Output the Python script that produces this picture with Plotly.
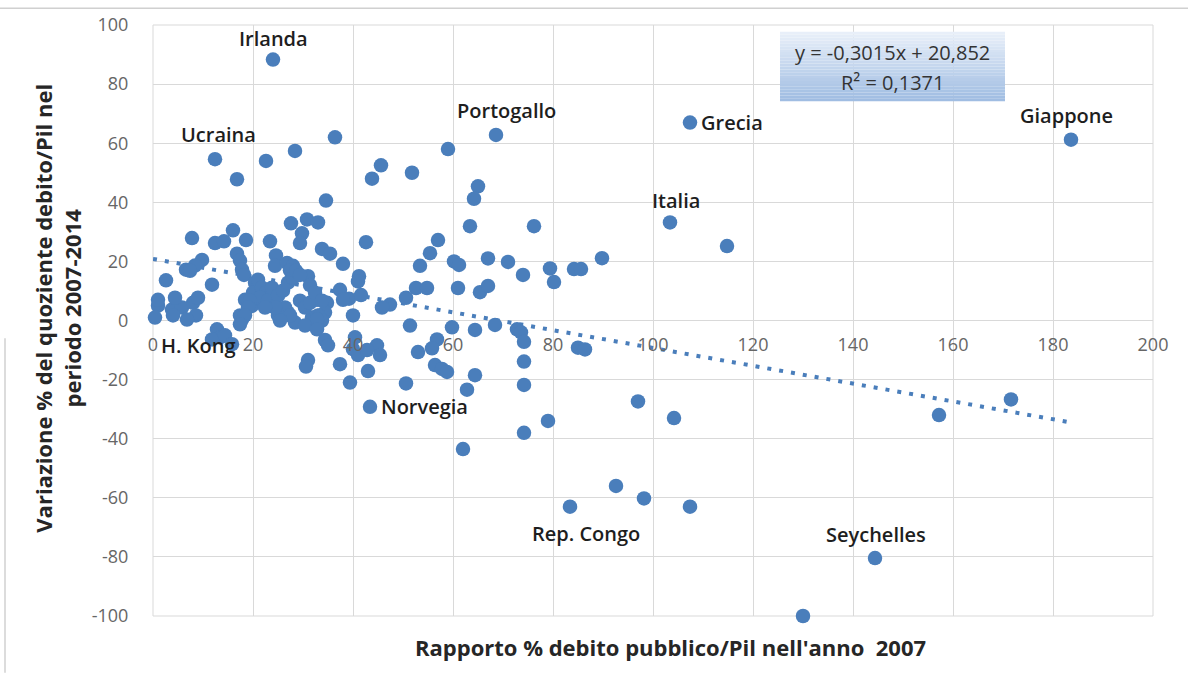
import plotly.graph_objects as go

# Public debt/GDP in 2007 (x) and % change of the debt/GDP ratio 2007-2014 (y)
debt_2007 = [
    24.0, 12.4, 16.8, 22.6, 28.4, 36.4, 43.8, 45.6, 51.8, 59.0,
    68.6, 107.4, 103.4, 114.8, 183.6, 157.2, 171.6, 144.4, 130.0, 83.4,
    92.6, 98.2, 107.4, 97.0, 104.2, 62.0, 79.0, 74.2, 43.4,
    65.0, 64.2, 63.4, 76.2, 34.6, 7.8, 12.4, 14.2, 16.0, 18.6,
    23.4, 27.6, 30.8, 33.0, 29.8, 29.4, 16.8, 17.4, 17.8, 18.2,
    9.8, 8.4, 6.6, 7.4, 11.8, 2.6, 24.6, 24.4, 26.8, 28.0,
    27.4, 33.8, 35.4, 38.0, 42.6, 41.2, 41.0, 31.0, 31.4, 57.0,
    55.4, 53.4, 60.2, 61.2, 67.0, 71.0, 74.0, 79.4, 80.2, 84.2,
    85.6, 89.8, 20.4, 20.0,
    37.4, 39.2, 41.6, 52.6, 54.8, 50.6, 47.4, 45.8, 61.0, 65.4,
    67.0, 32.8, 34.8, 38.0, 40.0, 1.0, 0.4, 3.8, 5.8, 8.0,
    8.6, 6.8, 1.0, 4.4, 9.0, 18.4, 17.8, 19.8, 21.8, 25.0,
    27.0, 23.8, 28.4, 4.0, 17.4, 31.8, 33.4, 34.4,
    21.0, 21.8, 22.6, 21.4, 23.0, 23.8, 25.0, 26.0, 27.0, 28.0,
    28.6, 29.4, 26.4, 27.4, 25.4, 24.4, 22.4, 19.4, 19.0, 18.4,
    29.4, 30.4, 31.4, 32.4, 33.8, 33.0, 33.8, 32.8,
    12.8, 13.4, 11.8, 14.4, 15.8, 17.4,
    30.4, 32.8, 34.4, 35.0, 31.0, 30.6, 37.4, 39.4, 40.4, 40.0,
    41.0, 43.0, 44.8, 45.4, 42.8,
    51.4, 53.0, 56.8, 55.8, 56.4, 57.8, 58.8, 50.6, 59.8, 64.4,
    68.4, 72.8, 73.6, 74.2, 74.2, 74.2, 64.4, 62.8, 85.0, 86.4,
]
change_2007_2014 = [
    88.3, 54.6, 47.8, 54.0, 57.4, 62.0, 48.0, 52.5, 50.0, 58.0,
    62.8, 67.0, 33.2, 25.2, 61.2, -32.0, -26.7, -80.4, -100.0, -63.0,
    -56.0, -60.2, -63.0, -27.4, -33.0, -43.5, -34.0, -38.0, -29.2,
    45.4, 41.2, 31.9, 31.9, 40.6, 27.9, 26.2, 26.8, 30.5, 27.2,
    26.8, 32.9, 34.2, 33.2, 29.5, 26.2, 22.6, 20.3, 17.2, 15.4,
    20.5, 18.6, 17.2, 16.8, 12.1, 13.6, 22.0, 18.5, 19.5, 18.5,
    17.0, 24.2, 22.6, 19.2, 26.5, 15.0, 13.2, 15.0, 12.0, 27.2,
    22.8, 18.5, 20.0, 18.8, 21.0, 19.8, 15.4, 17.6, 13.0, 17.4,
    17.4, 21.1, 12.8, 9.4,
    10.4, 7.4, 8.6, 11.0, 11.0, 7.7, 5.4, 4.4, 11.0, 9.6,
    11.7, 7.0, 6.0, 7.0, 1.7, 5.0, 1.0, 3.7, 4.4, 6.0,
    1.7, 0.3, 7.0, 7.7, 7.7, 7.0, 0.3, 5.0, 7.0, 1.7,
    2.7, 5.0, -0.7, 1.7, 1.7, 1.0, 1.7, 2.7,
    13.8, 11.1, 9.4, 7.7, 6.7, 11.1, 8.4, 10.1, 12.8, 14.4,
    16.8, 15.4, 4.4, 1.7, 0.0, 4.4, 4.4, 6.7, 4.4, 1.7,
    6.7, 4.4, 6.0, 9.4, 6.7, 1.7, 0.0, 0.3,
    -3.0, -5.7, -6.4, -5.0, -8.0, -1.3,
    -1.7, -3.0, -6.6, -8.4, -13.4, -15.6, -14.8, -21.0, -5.7, -9.7,
    -11.7, -17.1, -8.4, -11.7, -10.0,
    -1.7, -10.7, -6.4, -9.4, -15.1, -16.4, -17.4, -21.3, -2.3, -3.2,
    -1.5, -3.0, -4.0, -7.2, -13.9, -21.8, -18.5, -23.4, -9.2, -9.8,
]

# Countries with a data label: name -> index of the point
labelled = {
    "Irlanda": 0, "Ucraina": 1, "Portogallo": 10, "Grecia": 11,
    "Italia": 12, "Giappone": 14, "Seychelles": 17, "Rep. Congo": 19,
    "Norvegia": 28, "H. Kong": 99,
}

# Linear trend line
SLOPE = -0.3015
INTERCEPT = 20.852
R2 = 0.1371

x_ticks = [0, 20, 40, 60, 80, 100, 120, 140, 160, 180, 200]
y_ticks = [-100, -80, -60, -40, -20, 0, 20, 40, 60, 80, 100]

BLUE = "#4a7ebb"
GRID = "#d9d9d9"
FONT = "Open Sans"


def it_num(v, nd):
    return f"{v:.{nd}f}".replace(".", ",")


fig = go.Figure()

x_end = max(debt_2007)
fig.add_trace(go.Scatter(
    x=[0, x_end],
    y=[INTERCEPT, INTERCEPT + SLOPE * x_end],
    mode="lines",
    line=dict(color=BLUE, width=4, dash="4px,8px"),
    hoverinfo="skip",
))

fig.add_trace(go.Scatter(
    x=debt_2007,
    y=change_2007_2014,
    mode="markers",
    marker=dict(color=BLUE, size=14.5, line=dict(width=0)),
    cliponaxis=False,
))

# Label placement (anchor side and pixel offset from the point)
label_style = {
    "Irlanda": dict(xanchor="center", xshift=0, yshift=21),
    "Ucraina": dict(xanchor="center", xshift=3, yshift=25),
    "Portogallo": dict(xanchor="center", xshift=10, yshift=24),
    "Grecia": dict(xanchor="left", xshift=9, yshift=0),
    "Italia": dict(xanchor="center", xshift=6, yshift=22),
    "Giappone": dict(xanchor="center", xshift=-5, yshift=24),
    "Seychelles": dict(xanchor="center", xshift=1, yshift=24),
    "Rep. Congo": dict(xanchor="center", xshift=16, yshift=-27),
    "Norvegia": dict(xanchor="left", xshift=9, yshift=0),
    "H. Kong": dict(xanchor="left", xshift=4, yshift=-28),
}

annotations = []
for name, idx in labelled.items():
    st = label_style[name]
    annotations.append(dict(
        x=debt_2007[idx], y=change_2007_2014[idx], xref="x", yref="y",
        text=name, showarrow=False, xanchor=st["xanchor"], yanchor="middle",
        xshift=st["xshift"], yshift=st["yshift"],
        font=dict(family=FONT, size=20, color="#1e1e1e", weight=600),
    ))

# Trendline equation box (vertical gradient made of thin strips)
shapes = []
bx0, bx1, by0, by1 = 125.4, 170.4, 74.2, 97.7
n_strips = 24
top_c = (232, 239, 249)
bot_c = (160, 189, 226)
for i in range(n_strips):
    t = i / (n_strips - 1)
    c = tuple(round(top_c[k] + (bot_c[k] - top_c[k]) * t) for k in range(3))
    ya = by1 - (by1 - by0) * i / n_strips
    yb = by1 - (by1 - by0) * (i + 1) / n_strips
    shapes.append(dict(
        type="rect", xref="x", yref="y", x0=bx0, x1=bx1, y0=yb, y1=ya,
        fillcolor=f"rgb{c}", line=dict(width=0), layer="above",
    ))

eq_line = f"y = {it_num(SLOPE, 4)}x + {it_num(INTERCEPT, 3)}"
r2_line = f"R² = {it_num(R2, 4)}"
for txt, yy in [(eq_line, 90.6), (r2_line, 80.5)]:
    annotations.append(dict(
        x=(bx0 + bx1) / 2, y=yy, xref="x", yref="y", text=txt,
        showarrow=False, xanchor="center", yanchor="middle",
        font=dict(family=FONT, size=20, color="#333333"),
    ))

# Plot-area border and outer frame lines
shapes.append(dict(type="rect", xref="paper", yref="paper", x0=0, x1=1, y0=0, y1=1,
                   line=dict(color=GRID, width=1), layer="below"))
shapes.append(dict(type="line", xref="paper", yref="paper", x0=-0.16, x1=1.04,
                   y0=1.0285, y1=1.0285, line=dict(color="#d0d0d0", width=1.5)))
shapes.append(dict(type="line", xref="paper", yref="paper", x0=-0.148, x1=-0.148,
                   y0=0.47, y1=-0.096, line=dict(color="#d0d0d0", width=1.5)))

# Axis titles
annotations.append(dict(
    x=0.517, y=-0.052, xref="paper", yref="paper",
    text="Rapporto % debito pubblico/Pil nell'anno  2007",
    showarrow=False, xanchor="center", yanchor="middle",
    font=dict(family=FONT, size=22, color="#262626", weight="bold"),
))
annotations.append(dict(
    x=-0.095, y=0.52, xref="paper", yref="paper",
    text="Variazione % del quoziente debito/Pil nel<br>periodo 2007-2014",
    showarrow=False, xanchor="center", yanchor="middle", textangle=-90,
    font=dict(family=FONT, size=22, color="#262626", weight="bold"),
))

fig.update_layout(
    width=1188, height=675,
    margin=dict(l=153, r=35, t=20, b=59),
    paper_bgcolor="white", plot_bgcolor="white",
    showlegend=False,
    shapes=shapes,
    annotations=annotations,
    xaxis=dict(
        range=[0, 200], tickvals=x_ticks, ticktext=[str(v) for v in x_ticks],
        showgrid=True, gridcolor=GRID, gridwidth=1, zeroline=False,
        showline=False, anchor="free", position=0.5,
        ticks="outside", ticklen=8, tickcolor="rgba(0,0,0,0)",
        tickfont=dict(family=FONT, size=18, color="#666666"),
    ),
    yaxis=dict(
        range=[-100, 100], tickvals=y_ticks, ticktext=[str(v) for v in y_ticks],
        showgrid=True, gridcolor=GRID, gridwidth=1, zeroline=True,
        zerolinecolor=GRID, zerolinewidth=1, showline=False,
        ticks="outside", ticklen=20, tickcolor="rgba(0,0,0,0)",
        tickfont=dict(family=FONT, size=18, color="#666666"),
        domain=[0, 1],
    ),
)

fig.write_html("out.html")
